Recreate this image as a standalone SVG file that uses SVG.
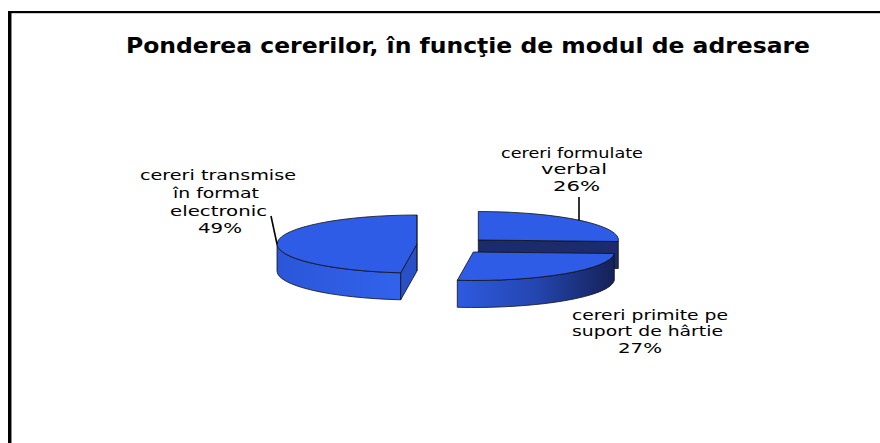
<svg xmlns="http://www.w3.org/2000/svg" width="880" height="443" viewBox="0 0 880 443">
<defs>
<style>
.t{font-family:"DejaVu Sans","Liberation Sans",sans-serif;font-size:14px;fill:#000}
.title{font-family:"DejaVu Sans","Liberation Sans",sans-serif;font-size:21.5px;font-weight:bold;fill:#000}
.top{fill:#2F5CE6;stroke:#111;stroke-width:0.8;stroke-linejoin:round}
.edge{stroke:#111;stroke-width:0.8;stroke-linejoin:round}
.lead{stroke:#000;stroke-width:1.6;fill:none}
</style>
<linearGradient id="gPaper" x1="457" y1="0" x2="614" y2="0" gradientUnits="userSpaceOnUse">
<stop offset="0" stop-color="#2E5AE0"/>
<stop offset="0.5" stop-color="#2446B0"/>
<stop offset="1" stop-color="#152158"/>
</linearGradient>
<linearGradient id="gLeft" x1="277" y1="0" x2="401" y2="0" gradientUnits="userSpaceOnUse">
<stop offset="0" stop-color="#2B56D8"/>
<stop offset="1" stop-color="#3262EC"/>
</linearGradient>
</defs>
<rect x="0" y="0" width="880" height="443" fill="#fff"/>
<g id="frame">
<rect x="8" y="11" width="3" height="432" fill="#000"/>
<rect x="11" y="13" width="1" height="430" fill="#8a8a8a"/>
<rect x="8" y="11" width="872" height="2.2" fill="#000"/>
</g>
<text class="title" x="126" y="53" textLength="684" lengthAdjust="spacingAndGlyphs">Ponderea cererilor, în funcţie de modul de adresare</text>

<g id="slice-electronic">
<path class="edge" fill="url(#gLeft)" d="M277,244 A140,29 0 0 0 400.7,272.8 L400.7,299.8 A140,29 0 0 1 277,271 Z"/>
<path class="edge" fill="#2A50C8" d="M417,244 L400.7,272.8 L400.7,299.8 L417,271 Z"/>
<path class="top" d="M417,244 L417,215 A140,29 0 0 0 400.7,272.8 Z"/>
<line class="edge" x1="417" y1="215" x2="417" y2="271" stroke="#777"/>
</g>

<g id="slice-verbal">
<path class="edge" fill="#1B2B6C" d="M478.3,240 L618.3,241.5 L618.3,268.5 L478.3,267 Z"/>
<path class="top" d="M478.3,240 L478.3,211.5 A140,28.5 0 0 1 618.3,241.5 Z"/>
</g>

<g id="slice-paper">
<path class="edge" fill="url(#gPaper)" d="M614.3,253.5 A141,28.5 0 0 1 457.3,280.3 L457.3,307.3 A141,28.5 0 0 0 614.3,280.5 Z"/>
<path class="top" d="M473.3,252 L614.3,253.5 A141,28.5 0 0 1 457.3,280.3 Z"/>
</g>

<g id="connectors">
<line class="lead" x1="271" y1="216" x2="277" y2="244"/>
<line class="lead" x1="579" y1="197" x2="579" y2="220.5"/>
</g>

<g id="label-electronic">
<text class="t" x="140" y="180" textLength="156" lengthAdjust="spacingAndGlyphs">cereri transmise</text>
<text class="t" x="173" y="198" textLength="86" lengthAdjust="spacingAndGlyphs">în format</text>
<text class="t" x="170" y="216" textLength="97" lengthAdjust="spacingAndGlyphs">electronic</text>
<text class="t" x="198" y="233" textLength="44" lengthAdjust="spacingAndGlyphs">49%</text>
</g>

<g id="label-verbal">
<text class="t" x="501" y="157.5" textLength="142" lengthAdjust="spacingAndGlyphs">cereri formulate</text>
<text class="t" x="541" y="174" textLength="66" lengthAdjust="spacingAndGlyphs">verbal</text>
<text class="t" x="553" y="190.5" textLength="47" lengthAdjust="spacingAndGlyphs">26%</text>
</g>

<g id="label-paper">
<text class="t" x="572" y="319.5" textLength="156" lengthAdjust="spacingAndGlyphs">cereri primite pe</text>
<text class="t" x="572" y="336" textLength="151" lengthAdjust="spacingAndGlyphs">suport de hârtie</text>
<text class="t" x="618" y="352.5" textLength="44" lengthAdjust="spacingAndGlyphs">27%</text>
</g>
</svg>
